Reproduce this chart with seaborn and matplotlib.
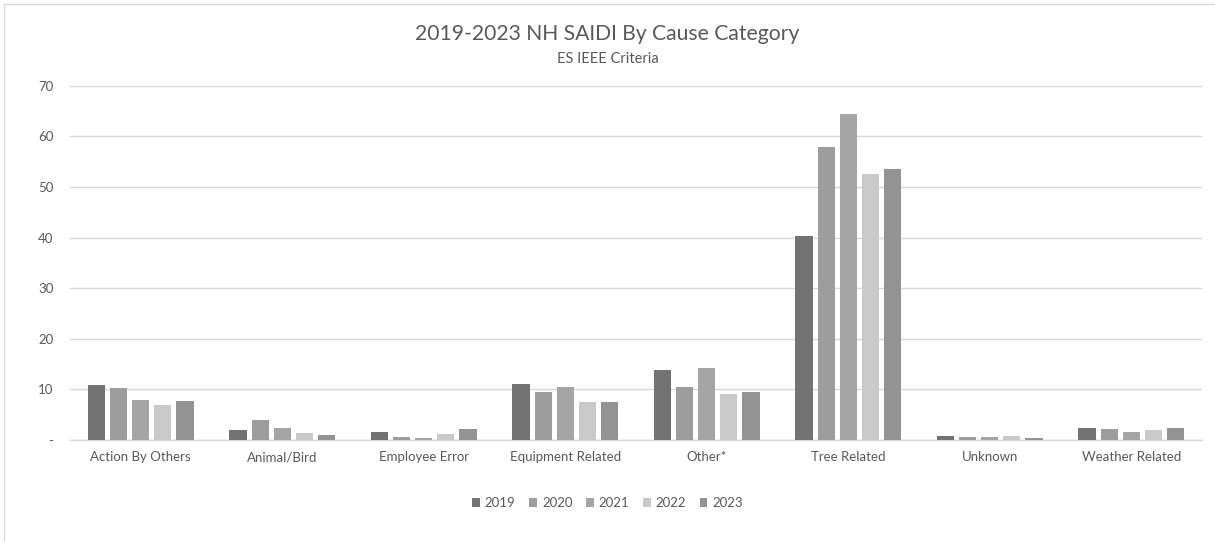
import matplotlib
matplotlib.use("Agg")
import matplotlib.pyplot as plt
import matplotlib.patches as mpatches
import pandas as pd
import seaborn as sns

categories = ["Action By Others", "Animal/Bird", "Employee Error", "Equipment Related",
              "Other*", "Tree Related", "Unknown", "Weather Related"]
years = ["2019", "2020", "2021", "2022", "2023"]

saidi_2019 = [10.8, 1.9, 1.6, 11.0, 13.8, 40.3, 0.85, 2.4]
saidi_2020 = [10.3, 3.9, 0.6, 9.5, 10.5, 57.8, 0.6, 2.1]
saidi_2021 = [8.0, 2.4, 0.3, 10.5, 14.3, 64.5, 0.6, 1.6]
saidi_2022 = [7.0, 1.4, 1.1, 7.5, 9.0, 52.6, 0.85, 1.9]
saidi_2023 = [7.8, 0.9, 2.1, 7.5, 9.5, 53.5, 0.4, 2.4]

y_ticks = [0, 10, 20, 30, 40, 50, 60, 70]
y_tick_labels = ["-", "10", "20", "30", "40", "50", "60", "70"]

year_colors = ["#737373", "#9d9d9d", "#a5a5a5", "#c9c9c9", "#939393"]

series = [saidi_2019, saidi_2020, saidi_2021, saidi_2022, saidi_2023]
df = pd.DataFrame(
    [(cat, yr, val) for yr, vals in zip(years, series) for cat, val in zip(categories, vals)],
    columns=["Cause", "Year", "SAIDI"],
)

sns.set_theme(style="white")
plt.rcParams["font.family"] = ["Lato", "DejaVu Sans"]
text_color = "#595959"

fig = plt.figure(figsize=(12.15, 5.41), dpi=100)
ax = fig.add_axes([70 / 1215, 1 - 440 / 541, 1132 / 1215, (440 - 85.7) / 541])

sns.barplot(
    data=df, x="Cause", y="SAIDI", hue="Year", order=categories, hue_order=years,
    palette=year_colors, width=0.78, gap=0.22, saturation=1, errorbar=None,
    legend=False, ax=ax, linewidth=0, zorder=3,
)

ax.set_ylim(0, 70)
ax.set_xlim(-0.5, len(categories) - 0.5)
ax.set_yticks(y_ticks)
ax.set_yticklabels(y_tick_labels)
ax.yaxis.grid(True, color="#d9d9d9", linewidth=1.0, zorder=0)
ax.set_axisbelow(True)
for side in ["top", "right", "left"]:
    ax.spines[side].set_visible(False)
ax.spines["bottom"].set_color("#d9d9d9")
ax.spines["bottom"].set_linewidth(1.0)
ax.tick_params(axis="both", length=0, labelsize=9.5, colors=text_color)
ax.tick_params(axis="y", pad=12)
ax.tick_params(axis="x", pad=8)
ax.set_xlabel("")
ax.set_ylabel("")

fig.text(0.5, 1 - 34 / 541, "2019-2023 NH SAIDI By Cause Category", ha="center", va="center",
         fontsize=15.2, color=text_color)
fig.text(0.5, 1 - 59 / 541, "ES IEEE Criteria", ha="center", va="center",
         fontsize=10.5, color=text_color)

handles = [mpatches.Patch(facecolor=c, edgecolor="none", label=y) for c, y in zip(year_colors, years)]
fig.legend(handles=handles, loc="center", bbox_to_anchor=(0.5, 1 - 503 / 541), ncol=5,
           frameon=False, fontsize=9.5, labelcolor=text_color, handlelength=0.6,
           handleheight=0.6, handletextpad=0.4, columnspacing=1.0)

# Light frame around the chart area
frame = mpatches.Rectangle((3.5 / 1215, -0.05), 1.2, 1 - 4.5 / 541 + 0.05,
                           transform=fig.transFigure, fill=False, edgecolor="#d9d9d9",
                           linewidth=1.0)
fig.patches.append(frame)

fig.savefig("out.png", dpi=100, facecolor="white")
